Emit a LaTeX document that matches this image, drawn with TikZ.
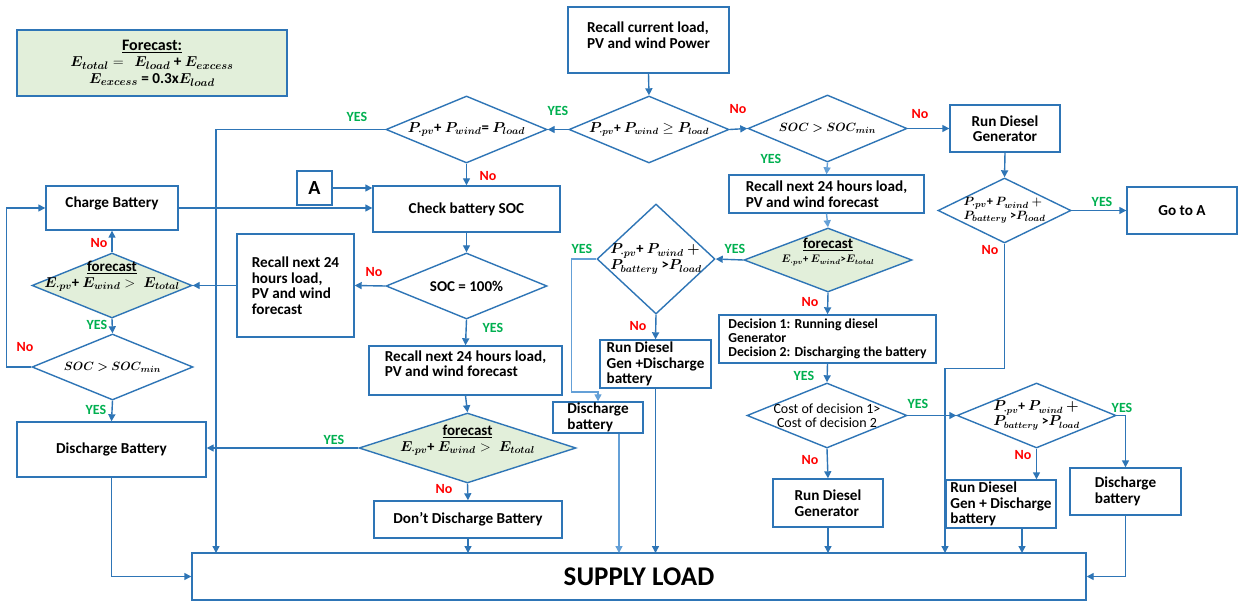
\documentclass[tikz,border=0pt]{standalone}
\usepackage{amsmath}
\usepackage{bm}
\usepackage{fontspec}
\setmainfont{Carlito}
\usetikzlibrary{arrows.meta,shapes.geometric}
\definecolor{lb}{RGB}{46,117,182}
\definecolor{llb}{RGB}{100,160,215}
\definecolor{gf}{RGB}{226,239,218}
\definecolor{yg}{RGB}{0,176,80}
\definecolor{nr}{RGB}{255,0,0}
\newcommand{\bP}[1]{\bm{P_{#1}}}
\newcommand{\bE}[1]{\bm{E_{#1}}}
\begin{document}
\begin{tikzpicture}[x=1pt,y=-1pt,
  bx/.style={draw=lb, line width=1.4pt, rectangle, inner sep=0pt, fill=white,
    font=\bfseries\fontsize{15.2}{15.5}\selectfont, align=left},
  dia/.style={draw=lb, line width=1.4pt, diamond, inner sep=0pt, fill=white},
  dlab/.style={inner sep=0pt, font=\bfseries\fontsize{12.5}{15}\selectfont, align=center},
  arr/.style={draw=lb, line width=1.4pt, -{Triangle[length=7pt,width=7pt]}},
  arrL/.style={arr, draw=llb},
  ylab/.style={text=yg, font=\bfseries\fontsize{14}{15}\selectfont, inner sep=0pt},
  nlab/.style={text=nr, font=\bfseries\fontsize{14}{15}\selectfont, inner sep=0pt},
]
\fill[white] (0,0) rectangle (1245,601);
\useasboundingbox (0,0) rectangle (1245,601);

% ---------- boxes ----------
\node[bx, fill=gf, minimum width=270pt, minimum height=66pt, align=center, font=\bfseries\fontsize{15.2}{16.5}\selectfont] (fbox) at (152,63)
  {\underline{\fontsize{16}{16.5}\selectfont Forecast:}\\ $\bE{total} =\;\, \bE{load}$ + $\bE{excess}$\\ $\bE{excess}$ = 0.3x$\bE{load}$};
\node[bx, minimum width=161pt, minimum height=66pt] (recall0) at (648.5,40) {Recall current load,\\PV and wind Power\\[-6pt]};
\node[bx, minimum width=187pt, minimum height=46pt] (check) at (466.5,209) {Check battery SOC};
\node[bx, minimum width=35pt, minimum height=34pt, font=\bfseries\fontsize{20}{22}\selectfont] (Abox) at (314.5,188) {A};
\node[bx, minimum width=132pt, minimum height=44pt] (charge) at (112,208) {Charge Battery\\[-3pt]};
\node[bx, minimum width=189pt, minimum height=55pt] (dis) at (111.5,449.5) {Discharge Battery};
\node[bx, minimum width=117pt, minimum height=103pt] (recallL) at (295.5,285.5) {Recall next 24\\hours load,\\PV and wind\\forecast};
\node[bx, minimum width=193pt, minimum height=49pt] (recallM) at (465.5,370.5) {Recall next 24 hours load,\\PV and wind forecast\\[-2pt]};
\node[bx, minimum width=188pt, minimum height=37pt] (dont) at (468,519.5) {Don’t Discharge Battery};
\node[bx, minimum width=894pt, minimum height=47pt, font=\bfseries\fontsize{27}{29}\selectfont] (supply) at (639,576.5) {SUPPLY LOAD};
\node[bx, minimum width=110pt, minimum height=47pt, align=center] (rdTop) at (1005,128.5) {Run Diesel\\Generator};
\node[bx, minimum width=110pt, minimum height=47pt] (gotoA) at (1182,210.5) {Go to A};
\node[bx, minimum width=195pt, minimum height=38pt] (recallR) at (826.5,194) {Recall next 24 hours load,\\PV and wind forecast};
\node[bx, minimum width=217pt, minimum height=48pt, font=\bfseries\fontsize{13.7}{14}\selectfont] (decision) at (827.5,339) {Decision 1: Running diesel\\Generator\\Decision 2: Discharging the battery};
\node[bx, minimum width=111pt, minimum height=48pt] (rdgd1) at (655.5,364) {Run Diesel\\Gen +Discharge\\battery};
\node[bx, minimum width=90pt, minimum height=31pt] (disS) at (598,417.5) {Discharge\\battery};
\node[bx, minimum width=110pt, minimum height=48pt] (rdg) at (828,503) {Run Diesel\\Generator};
\node[bx, minimum width=110pt, minimum height=48pt] (rdgd2) at (1001,504) {Run Diesel\\Gen + Discharge\\battery};
\node[bx, minimum width=111pt, minimum height=47pt] (disR) at (1125.5,491.5) {Discharge\\battery};

% ---------- diamonds ----------
\node[dia, minimum width=160pt, minimum height=67pt,
  label={[dlab,font=\bfseries\fontsize{13.5}{15}\selectfont]center:{$\bP{\cdot pv}$+ $\bP{wind} \geq \bP{load}$}}] (d1) at (649,129.5) {};
\node[dia, minimum width=161pt, minimum height=67pt,
  label={[dlab,font=\bfseries\fontsize{14.8}{15}\selectfont]center:{$\bP{\cdot pv}$+ $\bP{wind}$= $\bP{load}$}}] (d2) at (466.5,129.5) {};
\node[dia, minimum width=159pt, minimum height=67pt,
  label={[dlab,font=\bfseries\fontsize{12.4}{15}\selectfont]center:{$\bm{SOC > SOC_{min}}$}}] (dsoc1) at (827.5,128.5) {};
\node[dia, minimum width=133pt, minimum height=65pt,
  label={[dlab,align=left,font=\bfseries\fontsize{12.3}{13.5}\selectfont]center:{$\bP{\cdot pv}$+ $\bP{wind}$ $\bm{+}$\\$\bP{battery}$ >$\bP{load}$}}] (dbat1) at (1004.5,210.5) {};
\node[dia, fill=gf, minimum width=160pt, minimum height=65pt,
  label={[dlab,yshift=9pt,font=\bfseries\fontsize{14.6}{15}\selectfont]center:{\underline{\fontsize{15}{15}\selectfont forecast}\\[1pt]$\bE{\cdot pv}$+ $\bE{wind} >\; \bE{total}$}}] (dfL) at (112,285.5) {};
\node[dia, minimum width=161pt, minimum height=66pt,
  label={[dlab,font=\bfseries\fontsize{12.4}{15}\selectfont]center:{$\bm{SOC > SOC_{min}}$}}] (dsocL) at (112.5,367) {};
\node[dia, minimum width=161pt, minimum height=66pt,
  label={[dlab,font=\bfseries\fontsize{15}{15}\selectfont]center:{SOC = 100\%}}] (d100) at (466.5,286) {};
\node[dia, fill=gf, minimum width=217pt, minimum height=70pt,
  label={[dlab,yshift=8pt,font=\bfseries\fontsize{14.3}{15}\selectfont]center:{\underline{\fontsize{15}{15}\selectfont forecast}\\[1pt]$\bE{\cdot pv}$+ $\bE{wind} >\; \bE{total}$}}] (dfM) at (467.5,448) {};
\node[dia, fill=gf, minimum width=168pt, minimum height=64pt,
  label={[dlab,yshift=8pt]center:{\underline{\fontsize{15}{15}\selectfont forecast}\\[-1pt]{\fontsize{10.5}{12}\selectfont$\bE{\cdot pv}$+ $\bE{wind}$>$\bE{total}$}}}] (dfR) at (828,260) {};
\node[dia, minimum width=118pt, minimum height=110pt,
  label={[dlab,align=left,font=\bfseries\fontsize{14.5}{16}\selectfont]center:{$\bP{\cdot pv}$+ $\bP{wind}$ $\bm{+}$\\$\bP{battery}$ >$\bP{load}$}}] (dbatM) at (656,259) {};
\node[dia, minimum width=160pt, minimum height=65pt,
  label={[dlab,font=\fontsize{14}{14.5}\selectfont]center:{Cost of decision 1>\\Cost of decision 2}}] (dcost) at (827,415.5) {};
\node[dia, minimum width=159pt, minimum height=65pt,
  label={[dlab,align=left,font=\bfseries\fontsize{13.5}{15}\selectfont]center:{$\bP{\cdot pv}$+ $\bP{wind}$ $\bm{+}$\\$\bP{battery}$ >$\bP{load}$}}] (dbat2) at (1036.5,415.5) {};

% ---------- entry points on SUPPLY LOAD ----------
\coordinate (s1) at (216,553);
\coordinate (s2) at (468,553);
\coordinate (s3) at (619,553);
\coordinate (s4) at (655.5,553);
\coordinate (s5) at (828,553);
\coordinate (s6) at (945,553);
\coordinate (s7) at (1022,553);

% ---------- connectors ----------
\draw[arr] (recall0.south) -- (d1.north);
\draw[arr] (d1.west) -- (d2.east);
\draw[arr] (d2.west) -| (s1);
\draw[arr] (d2.south) -- (check.north);
\draw[arr] (Abox.east) -- (Abox.east -| check.west);
\draw[arr] (charge.east) -- (charge.east -| check.west);
\draw[arr] (check.south) -- (d100.north);
\draw[arr] (d100.west) -- (recallL.east);
\draw[arr] (recallL.west) -- (dfL.east);
\draw[arr] (dfL.north) -- (charge.south);
\draw[arr] (dfL.south) -- (dsocL.north);
\draw[arr] (dsocL.west) -- ++(-25,0) |- (charge.west);
\draw[arr] (dsocL.south) -- (dis.north);
\draw[arr] (dis.south) |- (supply.west);
\draw[arr] (d100.south) -- (recallM.north);
\draw[arr] (recallM.south) -- (dfM.north);
\draw[arr] (dfM.west) -- (dfM.west -| dis.east);
\draw[arr] (dfM.south) -- (dont.north);
\draw[arr] (dont.south) -- (s2);
\draw[arr] (d1.east) -- (dsoc1.west);
\draw[arr] (dsoc1.east) -- (rdTop.west);
\draw[arrL] (dsoc1.south) -- (recallR.north);
\draw[arr] (rdTop.south) -- (dbat1.north);
\draw[arr] (dbat1.east) -- (gotoA.west);
\draw[arr] (dbat1.south) -- ++(0,125) -| (s6);
\draw[arrL] (recallR.south) -- (dfR.north);
\draw[arr] (dfR.west) -- (dbatM.east);
\draw[arrL] (dbatM.west) -- ++(-25,0) -- ++(0,133) -| (disS.north);
\draw[arr] (dbatM.south) -- (rdgd1.north);
\draw[arrL] (disS.south -| s3) -- (s3);
\draw[arr] (rdgd1.south) -- (s4);
\draw[arr] (dfR.south) -- (decision.north);
\draw[arr] (decision.south) -- (dcost.north);
\draw[arr] (dcost.east) -- (dbat2.west);
\draw[arr] (dcost.south) -- (rdg.north);
\draw[arr] (rdg.south) -- (s5);
\draw[arr] (dbat2.south) -- (dbat2.south |- rdgd2.north);
\draw[arr] (dbat2.east) -| (disR.north);
\draw[arr] (rdgd2.south -| s7) -- (s7);
\draw[arr] (disR.south) |- (supply.east);

% ---------- YES / No labels ----------
\node[ylab] (y1) at (558,111) {YES};
\node[ylab] (y2) at (357,117) {YES};
\node[ylab] (y3) at (97,325) {YES};
\node[ylab] (y4) at (96,410) {YES};
\node[ylab] (y5) at (493,328) {YES};
\node[ylab] (y6) at (334,440) {YES};
\node[ylab] (y7) at (771,159) {YES};
\node[ylab] (y8) at (1102,202) {YES};
\node[ylab] (y9) at (735,249) {YES};
\node[ylab] (y10) at (582,249) {YES};
\node[ylab] (y11) at (804,376) {YES};
\node[ylab] (y12) at (918,404) {YES};
\node[ylab] (y13) at (1122,408) {YES};
\node[nlab] (n1) at (488,176) {No};
\node[nlab] (n2) at (738,109) {No};
\node[nlab] (n3) at (920,114) {No};
\node[nlab] (n4) at (374,272) {No};
\node[nlab] (n5) at (99,243) {No};
\node[nlab] (n6) at (25,347) {No};
\node[nlab] (n7) at (444,489) {No};
\node[nlab] (n8) at (990,250) {No};
\node[nlab] (n9) at (638,326) {No};
\node[nlab] (n10) at (810,302) {No};
\node[nlab] (n11) at (810,460) {No};
\node[nlab] (n12) at (1023,455) {No};
\end{tikzpicture}
\end{document}
